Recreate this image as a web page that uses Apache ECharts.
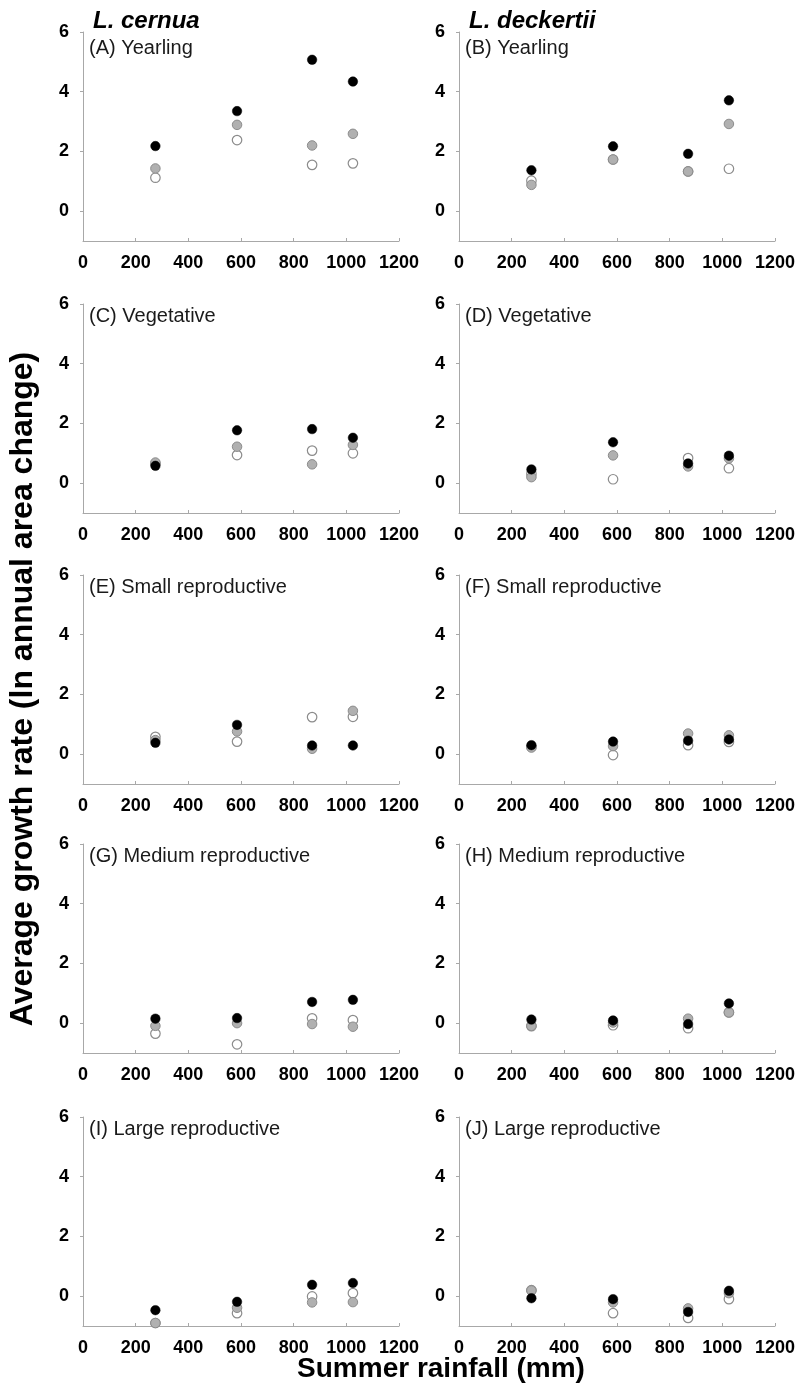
<!DOCTYPE html>
<html>
<head>
<meta charset="utf-8">
<script src="https://cdn.jsdelivr.net/npm/echarts@6/dist/echarts.min.js"></script>
<style>
  html, body { margin: 0; padding: 0; background: #fff; }
  #chart { width: 800px; height: 1399px; }
</style>
</head>
<body>
<div id="chart"></div>
<script>
// Summer rainfall of the four study years (mm)
const rainfall = [275, 585, 870, 1025];
const xTickValues = [0, 200, 400, 600, 800, 1000, 1200];
const yTickValues = [0, 2, 4, 6];

const speciesNames = ['L. cernua', 'L. deckertii'];
const panelTitles = [
  '(A) Yearling', '(B) Yearling',
  '(C) Vegetative', '(D) Vegetative',
  '(E) Small reproductive', '(F) Small reproductive',
  '(G) Medium reproductive', '(H) Medium reproductive',
  '(I) Large reproductive', '(J) Large reproductive'
];

// Average growth rate per panel: dark, grey and open symbols
const panelA_dark = [2.18, 3.35, 5.07, 4.34];
const panelA_grey = [1.43, 2.89, 2.20, 2.59];
const panelA_open = [1.12, 2.38, 1.55, 1.60];

const panelB_dark = [1.37, 2.17, 1.92, 3.71];
const panelB_grey = [0.88, 1.73, 1.33, 2.92];
const panelB_open = [1.02, 1.73, 1.33, 1.42];

const panelC_dark = [0.58, 1.77, 1.81, 1.52];
const panelC_grey = [0.69, 1.22, 0.63, 1.28];
const panelC_open = [0.65, 0.94, 1.09, 1.00];

const panelD_dark = [0.46, 1.37, 0.66, 0.92];
const panelD_grey = [0.20, 0.93, 0.56, 0.83];
const panelD_open = [0.31, 0.13, 0.84, 0.50];

const panelE_dark = [0.38, 0.98, 0.29, 0.29];
const panelE_grey = [0.47, 0.76, 0.18, 1.45];
const panelE_open = [0.58, 0.42, 1.24, 1.25];

const panelF_dark = [0.30, 0.42, 0.45, 0.49];
const panelF_grey = [0.22, 0.27, 0.69, 0.63];
const panelF_open = [0.25, -0.03, 0.30, 0.41];

const panelG_dark = [0.15, 0.17, 0.71, 0.78];
const panelG_grey = [-0.09, 0.00, -0.03, -0.12];
const panelG_open = [-0.35, -0.71, 0.16, 0.10];

const panelH_dark = [0.12, 0.09, -0.03, 0.66];
const panelH_grey = [-0.09, 0.02, 0.15, 0.36];
const panelH_open = [-0.10, -0.07, -0.17, 0.36];

const panelI_dark = [-0.47, -0.19, 0.38, 0.44];
const panelI_grey = [-0.90, -0.39, -0.21, -0.20];
const panelI_open = [-0.90, -0.57, -0.01, 0.10];

const panelJ_dark = [-0.07, -0.10, -0.53, 0.18];
const panelJ_grey = [0.19, -0.21, -0.41, 0.10];
const panelJ_open = [0.20, -0.57, -0.73, -0.10];

const panels = [
  [panelA_dark, panelA_grey, panelA_open],
  [panelB_dark, panelB_grey, panelB_open],
  [panelC_dark, panelC_grey, panelC_open],
  [panelD_dark, panelD_grey, panelD_open],
  [panelE_dark, panelE_grey, panelE_open],
  [panelF_dark, panelF_grey, panelF_open],
  [panelG_dark, panelG_grey, panelG_open],
  [panelH_dark, panelH_grey, panelH_open],
  [panelI_dark, panelI_grey, panelI_open],
  [panelJ_dark, panelJ_grey, panelJ_open]
];

// Panel layout (pixels)
const colLeft = [83, 459];
const rowTop = [32, 304, 575, 844, 1117];
const gridW = 316;
const gridH = 209;

const FONT = '"Liberation Sans", Arial, sans-serif';
const axisGrey = '#a8a8a8';

// Symbol styles, drawn open first so dark symbols sit on top
const markStyles = {
  open: { color: '#ffffff', borderColor: '#8c8c8c', borderWidth: 1.2, opacity: 1 },
  grey: { color: '#b0b0b0', borderColor: '#8c8c8c', borderWidth: 1, opacity: 1 },
  dark: { color: '#000000', borderColor: '#000000', borderWidth: 0.5, opacity: 1 }
};

const grids = [], xAxes = [], yAxes = [], series = [], graphics = [];

panels.forEach((vals, i) => {
  const col = i % 2, row = Math.floor(i / 2);
  const left = colLeft[col], top = rowTop[row];
  grids.push({ left: left, top: top, width: gridW, height: gridH });

  xAxes.push({
    gridIndex: i, type: 'value', min: 0, max: 1200, interval: 200,
    axisLine: { onZero: false, lineStyle: { color: axisGrey, width: 1 } },
    axisTick: { inside: true, length: 3, lineStyle: { color: axisGrey } },
    splitLine: { show: false },
    axisLabel: {
      margin: 13, color: '#000', fontFamily: FONT, fontWeight: 'bold', fontSize: 18,
      customValues: xTickValues, formatter: v => String(v)
    }
  });
  yAxes.push({
    gridIndex: i, type: 'value', min: -1, max: 6,
    axisLine: { show: true, lineStyle: { color: axisGrey, width: 1 } },
    axisTick: { show: true, length: 3, lineStyle: { color: axisGrey }, customValues: yTickValues },
    splitLine: { show: false },
    axisLabel: {
      margin: 14, color: '#000', fontFamily: FONT, fontWeight: 'bold', fontSize: 18,
      customValues: yTickValues, formatter: v => String(v)
    }
  });

  const [dark, grey, open] = vals;
  [['open', open], ['grey', grey], ['dark', dark]].forEach(([kind, arr]) => {
    series.push({
      type: 'scatter', xAxisIndex: i, yAxisIndex: i,
      symbol: 'circle', symbolSize: 9.5,
      itemStyle: markStyles[kind],
      data: rainfall.map((x, k) => [x, arr[k]]),
      silent: true, animation: false
    });
  });

  graphics.push({
    type: 'text', left: left + 6, top: top + (row === 0 ? 6 : 2),
    style: { text: panelTitles[i], font: '20px ' + FONT, fill: '#1a1a1a' }
  });
});

speciesNames.forEach((name, col) => {
  graphics.push({
    type: 'text', left: colLeft[col] + 10, top: 9,
    style: { text: name, font: 'italic bold 24px ' + FONT, fill: '#000' }
  });
});

// Shared axis titles
graphics.push({
  type: 'text', x: 23, y: 689, rotation: Math.PI / 2,
  style: {
    text: 'Average growth rate (ln annual area change)',
    font: 'bold 32px ' + FONT, fill: '#000', align: 'center', verticalAlign: 'middle'
  }
});
graphics.push({
  type: 'text', x: 441, y: 1369,
  style: {
    text: 'Summer rainfall (mm)',
    font: 'bold 28px ' + FONT, fill: '#000', align: 'center', verticalAlign: 'middle'
  }
});

const chart = echarts.init(document.getElementById('chart'), null, { renderer: 'canvas' });
chart.setOption({
  backgroundColor: '#ffffff',
  animation: false,
  grid: grids,
  xAxis: xAxes,
  yAxis: yAxes,
  series: series,
  graphic: graphics
});
</script>
</body>
</html>
